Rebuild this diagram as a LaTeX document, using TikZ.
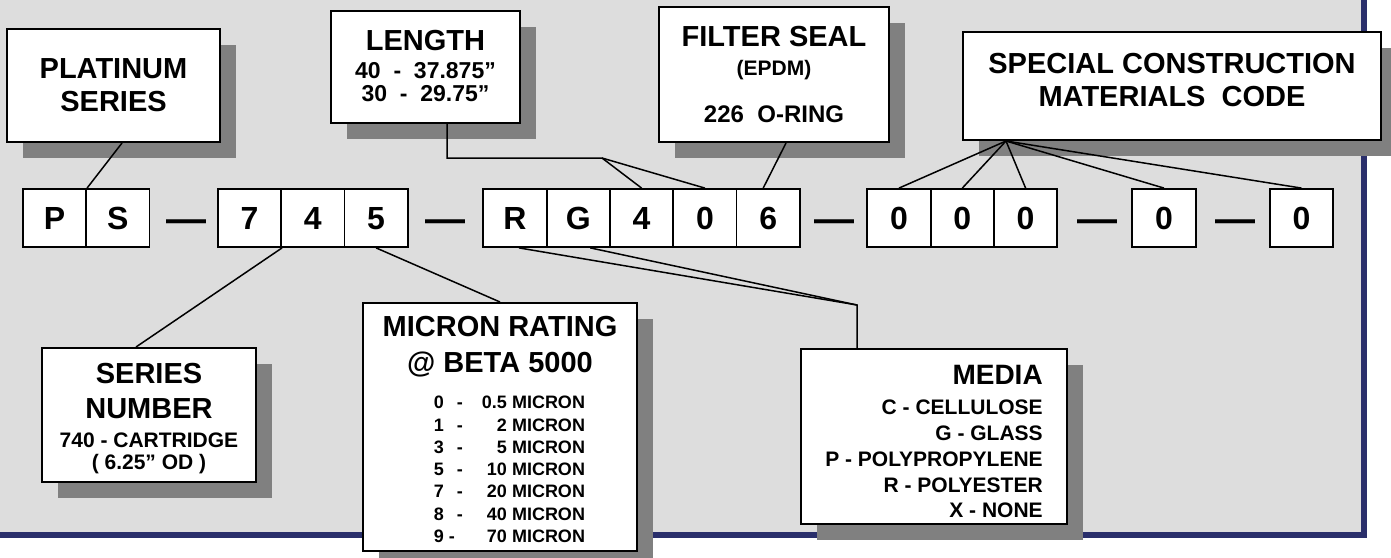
\documentclass[tikz,border=0pt]{standalone}
\usepackage{fontspec}
\setmainfont{Liberation Sans}
\usetikzlibrary{positioning,shadows}

\definecolor{panelgray}{HTML}{DDDDDD}
\definecolor{shadegray}{HTML}{808080}
\definecolor{navyline}{HTML}{2A2F6B}

\newcommand{\fsz}[1]{\fontsize{#1}{#1}\selectfont}

\begin{document}
\begin{tikzpicture}[x=1pt,y=-1pt,node distance=63.3pt,on grid,
    card/.style={draw,line width=2pt,fill=white,inner sep=0pt,align=center,
      drop shadow={shadow xshift=16pt,shadow yshift=-16pt,fill=shadegray,opacity=1}},
    digit/.style={draw,line width=1.8pt,fill=white,minimum width=63.3pt,minimum height=58pt,
      inner sep=0pt,font=\bfseries\fsz{32},text height=23pt,text depth=0pt},
    dashsym/.style={inner sep=0pt,font=\bfseries\fsz{40},text height=22pt,text depth=0pt},
    link/.style={line width=1.5pt}]
                        % \draw[help lines,step=50] (0,0) grid (1391,557);
                        \useasboundingbox (0,0) rectangle (1391,557);
                        \fill[panelgray] (0,0) rectangle (1364,534.5);
                        \draw[navyline,line width=6pt] (0,534.5) -- (1364,534.5) -- (1364,0);

                        % code row
                        \node[digit]   (p)  at (54.5,218)   {P};
                        \node[digit]   (s)  [right=of p]    {S};
                        \node[dashsym] (d1) at (186,221)    {—};
                        \node[digit]   (n7) at (249.5,218)  {7};
                        \node[digit]   (n4) [right=of n7]   {4};
                        \node[digit]   (n5) [right=of n4]   {5};
                        \node[dashsym] (d2) at (445,221)    {—};
                        \node[digit]   (r)  at (515,218)    {R};
                        \node[digit]   (g)  [right=of r]    {G};
                        \node[digit]   (m4) [right=of g]    {4};
                        \node[digit]   (m0) [right=of m4]   {0};
                        \node[digit]   (m6) [right=of m0]   {6};
                        \node[dashsym] (d3) at (834,221)    {—};
                        \node[digit]   (z1) at (899,218)    {0};
                        \node[digit]   (z2) [right=of z1]   {0};
                        \node[digit]   (z3) [right=of z2]   {0};
                        \node[dashsym] (d4) at (1097,221)   {—};
                        \node[digit]   (z4) at (1164,218)   {0};
                        \node[dashsym] (d5) at (1235,221)   {—};
                        \node[digit]   (z5) at (1301.5,218) {0};

                        % callouts
                        \node[card,minimum width=213pt,minimum height=113pt,font=\bfseries\fontsize{29}{33}\selectfont]
                            (plat) at (113.5,85.5) {PLATINUM\\SERIES};
                        \node[card,minimum width=189pt,minimum height=112pt,font=\bfseries\fontsize{29}{28}\selectfont]
                            (len) at (425.5,67) {LENGTH\\{\fsz{23}40~~-~~37.875”}\\[-5pt]{\fsz{23}30~~-~~29.75”\rule[-2pt]{0pt}{2pt}}};
                        \node[card,minimum width=230pt,minimum height=135pt,font=\bfseries\fsz{29}]
                            (seal) at (774,74.5) {FILTER SEAL\\{\fsz{21}(EPDM)}\\[18pt]{\fsz{24}226~~O-RING}};
                        \node[card,minimum width=418pt,minimum height=108pt,font=\bfseries\fontsize{29}{33}\selectfont]
                            (spec) at (1172,86) {SPECIAL CONSTRUCTION\\MATERIALS~~CODE\rule[-12pt]{0pt}{12pt}};
                        \node[card,minimum width=214pt,minimum height=134pt,font=\bfseries\fontsize{29}{35}\selectfont]
                            (series) at (149,415) {\rule{0pt}{28pt}SERIES\\NUMBER\\[-6.3pt]{\fsz{21}740 - CARTRIDGE}\\[-12.7pt]{\fsz{21}( 6.25” OD )}};
                        \node[card,minimum width=274pt,minimum height=248pt,font=\bfseries\fontsize{29}{36}\selectfont]
                            (micron) at (500,427) {\rule{0pt}{32pt}MICRON RATING\\@ BETA 5000\\{\fontsize{18}{22.3}\selectfont\hspace*{19pt}%
                            \begin{tabular}[t]{@{}l@{\hspace{13pt}}l@{\hspace{19pt}}r@{}}
                            0&-&0.5 MICRON\\ 1&-&2 MICRON\\ 3&-&5 MICRON\\ 5&-&10 MICRON\\
                            7&-&20 MICRON\\ 8&-&40 MICRON\\ \rlap{9 -}&&70 MICRON
                            \end{tabular}}};
                        \node[card,align=right,minimum width=266pt,minimum height=175pt,font=\bfseries\fontsize{28}{30}\selectfont]
                            (media) at (934,436.5) {\rule{0pt}{30pt}MEDIA\\{\fsz{21}C - CELLULOSE}\\[-4.25pt]{\fsz{21}G - GLASS}\\[-4.25pt]%
                            {\fsz{21}P - POLYPROPYLENE}\\[-4.25pt]{\fsz{21}R - POLYESTER}\\[-4.25pt]{\fsz{21}X - NONE}};

                        % leader lines
                        \coordinate (lenjoin)   at (602,158);
                        \coordinate (specjoin)  at ([xshift=44pt]spec.south west);
                        \coordinate (mediajoin) at (857,305);

                        \draw[link] ([xshift=8.5pt]plat.south) -- (p.north east);
                        \draw[link] ([xshift=21.5pt]len.south) |- (lenjoin) -- (m4.north);
                        \draw[link] (lenjoin) -- (m0.north);
                        \draw[link] ([xshift=12pt]seal.south) -- ([xshift=-5pt]m6.north);
                        \foreach \z in {z1,z2,z3,z4,z5}
                            \draw[link] (specjoin) -- (\z.north);
                        \draw[link] (n7.south east) -- ([xshift=-13pt]series.north);
                        \draw[link] (n5.south) -- (micron.north);
                        \draw[link] ([xshift=4pt]r.south) -- (mediajoin) -- (mediajoin |- media.north);
                        \draw[link] ([xshift=12pt]g.south) -- (mediajoin);
                    \end{tikzpicture}
\end{document}
